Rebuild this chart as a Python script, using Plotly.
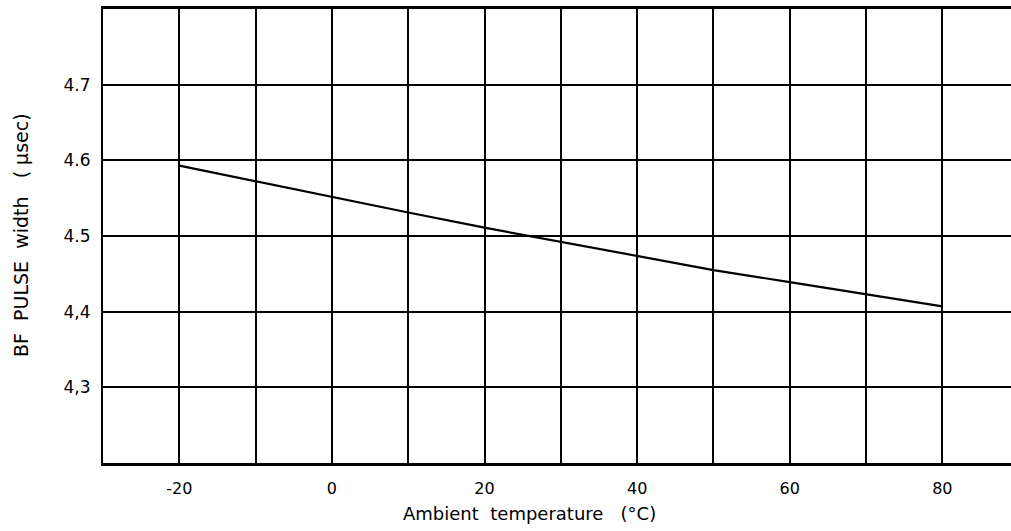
import plotly.graph_objects as go

temperature = [-20, -10, 0, 10, 20, 30, 40, 50, 60, 70, 80]
pulse_width = [4.593, 4.572, 4.551, 4.531, 4.511, 4.492, 4.473, 4.455, 4.439, 4.423, 4.407]

x_ticks = [-20, 0, 20, 40, 60, 80]
x_ticklabels = ["-20", "0", "20", "40", "60", "80"]
x_grid = [-20, -10, 0, 10, 20, 30, 40, 50, 60, 70, 80]
y_ticks = [4.3, 4.4, 4.5, 4.6, 4.7]
y_ticklabels = ["4,3", "4,4", "4.5", "4.6", "4.7"]

FONT = "DejaVu Sans"
W, H = 1011, 531
L, R, T, B = 103, 0, 9, 68
PW, PH = W - L - R, H - T - B

fig = go.Figure()
fig.add_trace(go.Scatter(x=temperature, y=pulse_width, mode="lines",
                         line=dict(color="black", width=2.2),
                         showlegend=False, hoverinfo="skip"))

fig.update_xaxes(range=[-30, 89], tickvals=x_ticks, ticktext=x_ticklabels,
                 showgrid=True, gridcolor="black", gridwidth=1.8,
                 minor=dict(tickvals=[v for v in x_grid if v not in x_ticks],
                            showgrid=True, gridcolor="black", gridwidth=1.8),
                 showline=True, linecolor="black", linewidth=2.5, mirror=True,
                 zeroline=False, ticks="", ticklabelstandoff=9,
                 tickfont=dict(family=FONT, size=16, color="black"))
fig.update_yaxes(range=[4.2, 4.8], tickvals=y_ticks, ticktext=y_ticklabels,
                 showgrid=True, gridcolor="black", gridwidth=1.8,
                 showline=True, linecolor="black", linewidth=2, mirror=False,
                 zeroline=False, ticks="", ticklabelstandoff=7,
                 tickfont=dict(family=FONT, size=17, color="black"))

fig.add_annotation(text="Ambient  temperature   (°C)", xref="paper", yref="paper",
                   x=(529 - L) / PW, y=-(513 - (T + PH)) / PH, showarrow=False,
                   xanchor="center", yanchor="middle",
                   font=dict(family=FONT, size=18, color="black"))
fig.add_annotation(text="BF  PULSE  width   ( µsec)", xref="paper", yref="paper",
                   x=(21 - L) / PW, y=(T + PH - 235) / PH, showarrow=False,
                   textangle=-90, xanchor="center", yanchor="middle",
                   font=dict(family=FONT, size=19, color="black"))

fig.update_layout(width=W, height=H,
                  margin=dict(l=L, r=R, t=T, b=B),
                  paper_bgcolor="white", plot_bgcolor="white")

fig.write_html("out.html", config={"displayModeBar": False},
               post_script="document.body.style.margin='0';document.body.style.overflow='hidden';")
